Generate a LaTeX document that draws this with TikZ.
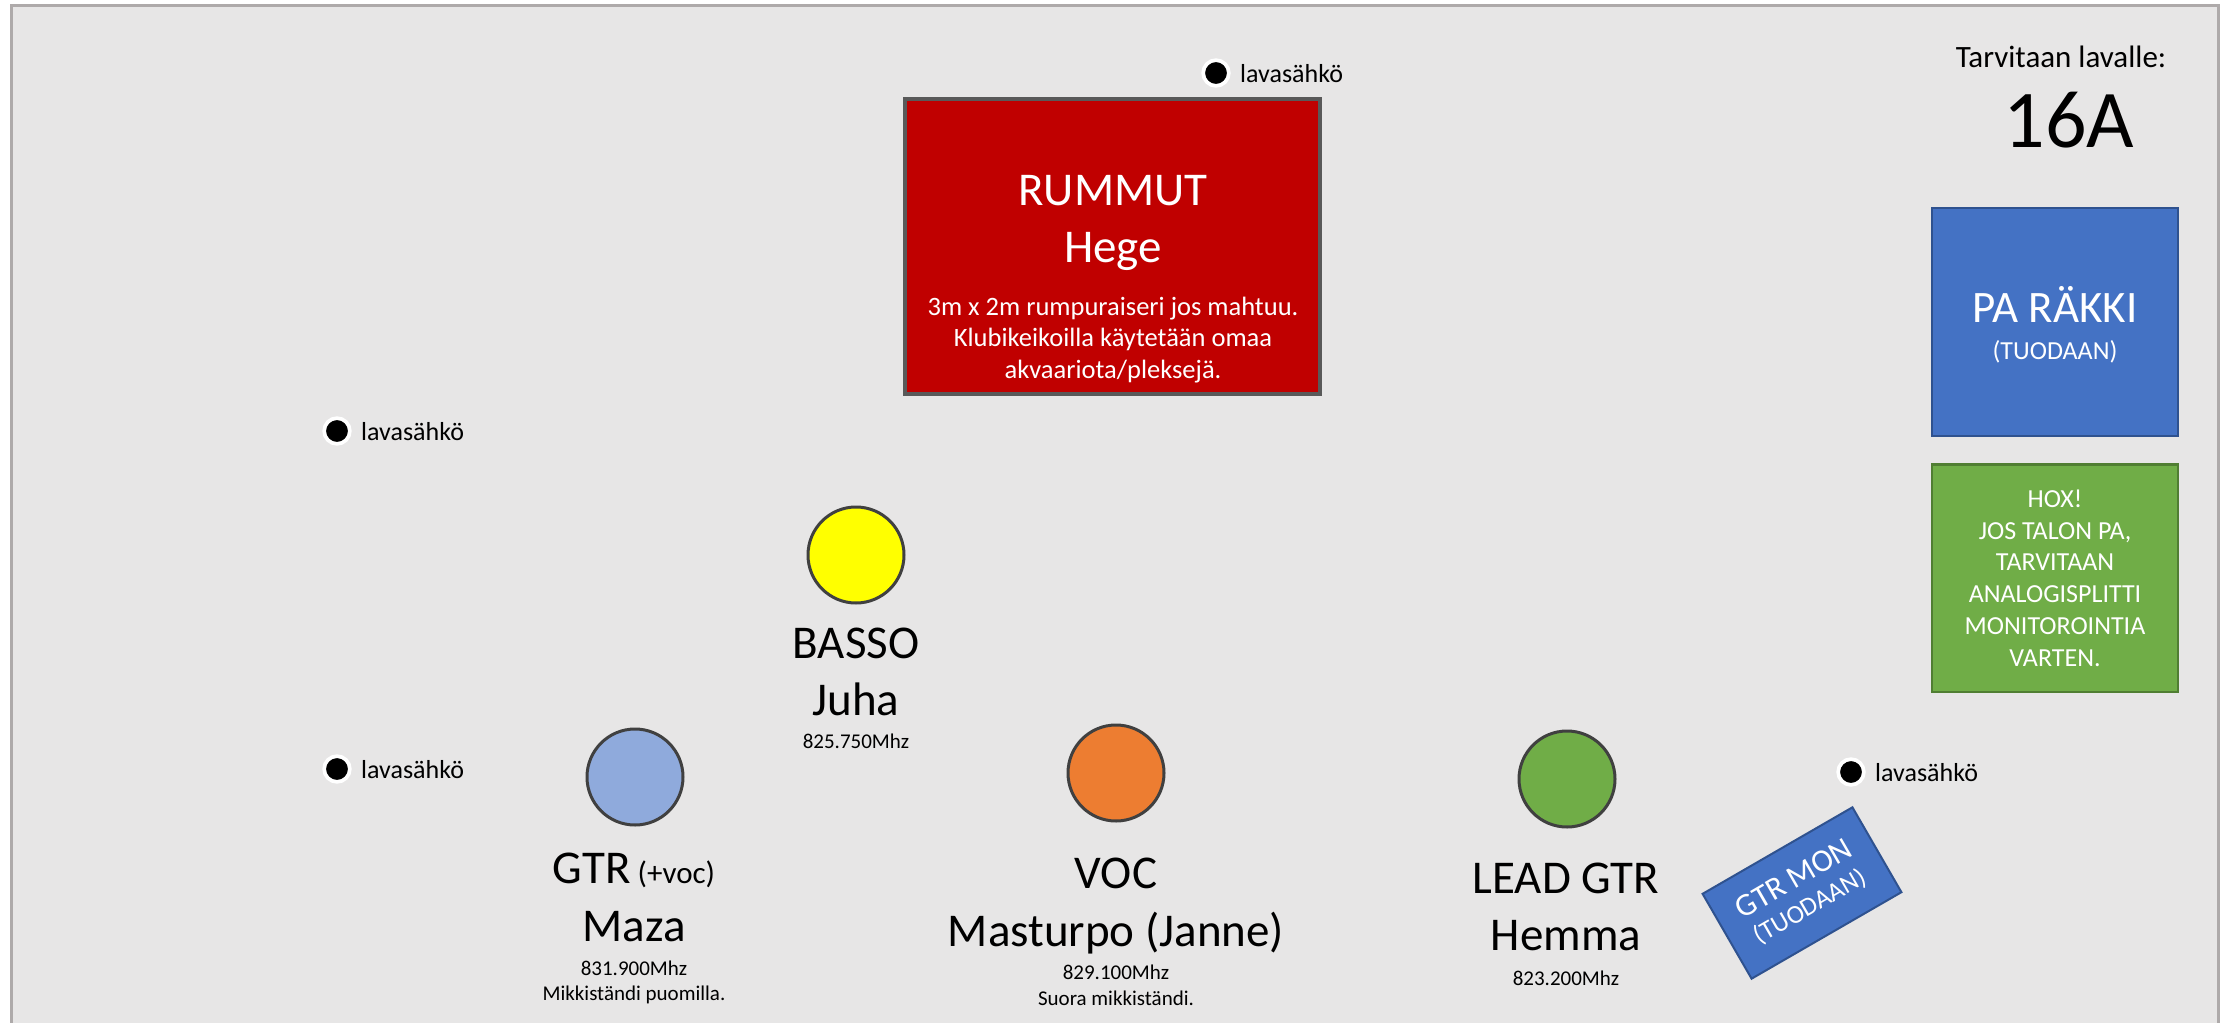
\documentclass[tikz,border=0pt]{standalone}
\usepackage{fontspec}
\setmainfont{Carlito}
\usetikzlibrary{positioning}

\definecolor{stagebg}{HTML}{E7E6E6}
\definecolor{stageline}{HTML}{AEAAAA}
\definecolor{drumred}{HTML}{C00000}
\definecolor{drumline}{HTML}{595959}
\definecolor{ringline}{HTML}{404040}
\definecolor{bassyellow}{HTML}{FFFF00}
\definecolor{gtrblue}{HTML}{8FAADC}
\definecolor{vocorange}{HTML}{ED7D31}
\definecolor{leadgreen}{HTML}{70AD47}
\definecolor{rackblue}{HTML}{4472C4}
\definecolor{rackline}{HTML}{2F528F}
\definecolor{noteline}{HTML}{507E32}

\newcommand{\pxfont}[2]{\fontsize{#1}{#2}\selectfont}

\tikzset{
    player/.style={circle, draw=ringline, line width=3pt, minimum size=96pt, inner sep=0pt},
    socket/.style={circle, fill=black, draw=white, line width=3.7pt, minimum size=25.7pt, inner sep=0pt},
    sockettext/.style={anchor=base west, inner sep=0pt, font=\pxfont{26}{31}},
    bigname/.style={anchor=base, inner sep=0pt, font=\pxfont{47}{57}},
    freq/.style={anchor=base, inner sep=0pt, font=\pxfont{21}{26}},
    notetext/.style={anchor=base, inner sep=0pt, align=center, text=white},
}

\begin{document}
\begin{tikzpicture}[x=1pt,y=-1pt]
                \useasboundingbox (0,0) rectangle (2231,1023);
                \clip (0,0) rectangle (2231,1023);
                \fill[white] (0,0) rectangle (2231,1023);
                \draw[stageline, fill=stagebg, line width=3pt] (11.5,5) rectangle (2218.5,1080);
                % rummut
                \node[rectangle, fill=drumred, draw=drumline, line width=4pt, minimum width=415pt, minimum height=295pt] (rummut) at (1112.5,246.5) {};
                \node[bigname, text=white] (rummut-a) at (1113,205.7) {RUMMUT};
                \node[bigname, text=white] (rummut-b) at (1113,262) {Hege};
                \node[notetext, font=\pxfont{26.5}{31.5}] (rummut-c) at (1113,378) {3m x 2m rumpuraiseri jos mahtuu.\\Klubikeikoilla käytetään omaa\\akvaariota/pleksejä.};
                % lavasahkot
                \node[socket] (s1) at (1216,73) {};
                \node[socket] (s2) at (337,431) {};
                \node[socket] (s3) at (337,769) {};
                \node[socket] (s4) at (1851,772) {};
                \node[sockettext] (s1-t) at (1240,82.5) {lavasähkö};
                \node[sockettext] (s2-t) at (361,440.5) {lavasähkö};
                \node[sockettext] (s3-t) at (361,778.5) {lavasähkö};
                \node[sockettext] (s4-t) at (1875,781.5) {lavasähkö};
                % virta
                \node[anchor=base, inner sep=0pt, font=\pxfont{31}{37}] (tarve) at (2061,67) {Tarvitaan lavalle:};
                \node[anchor=base, inner sep=0pt, font=\pxfont{82}{98}] (ampeeri) at (2069,147) {16A};
                % pa
                \node[rectangle, fill=rackblue, draw=rackline, line width=2.5pt, minimum width=246pt, minimum height=228pt] (pa) at (2055,322) {};
                \node[bigname, text=white, font=\pxfont{45}{54}] (pa-a) at (2055,322.7) {PA RÄKKI};
                \node[anchor=base, inner sep=0pt, text=white, font=\pxfont{26}{31}] (pa-b) at (2055,359.6) {(TUODAAN)};
                \node[rectangle, fill=leadgreen, draw=noteline, line width=2.5pt, minimum width=246pt, minimum height=227.5pt] (hox) at (2055,578.3) {};
                \node[notetext, font=\pxfont{26}{31.9}] (hox-t) at (2055,666.6) {HOX!\\JOS TALON PA,\\TARVITAAN\\ANALOGISPLITTI\\MONITOROINTIA\\VARTEN.};
                % soittajat
                \node[player, fill=bassyellow] (basso) at (856,555) {};
                \node[bigname] (basso-a) at (856,658.3) {BASSO};
                \node[bigname] (basso-b) at (856,715) {Juha};
                \node[freq] (basso-c) at (856,748.3) {825.750Mhz};
                \node[player, fill=gtrblue] (gtr) at (635,777) {};
                \node[bigname] (gtr-a) at (634,883.3) {GTR{\pxfont{31}{36} (+voc)}};
                \node[bigname] (gtr-b) at (634,941.7) {Maza};
                \node[freq] (gtr-c) at (634,975) {831.900Mhz};
                \node[freq] (gtr-d) at (634,1000) {Mikkiständi puomilla.};
                \node[player, fill=vocorange] (voc) at (1116,773) {};
                \node[bigname] (voc-a) at (1116,888.3) {VOC};
                \node[bigname] (voc-b) at (1116,946.7) {Masturpo (Janne)};
                \node[freq] (voc-c) at (1116,979.3) {829.100Mhz};
                \node[freq] (voc-d) at (1116,1005) {Suora mikkiständi.};
                \node[player, fill=leadgreen] (lead) at (1567,779) {};
                \node[bigname] (lead-a) at (1566,893.3) {LEAD GTR};
                \node[bigname] (lead-b) at (1566,950) {Hemma};
                \node[freq] (lead-c) at (1566,985) {823.200Mhz};
                % monitori
                \node[rectangle, rotate=30, fill=rackblue, draw=rackline, line width=2pt, minimum width=173pt, minimum height=98pt, text=white, align=center, inner sep=0pt] (mon) at (1802,893) {\pxfont{32}{37}GTR MON\\[10pt]\pxfont{26}{37}(TUODAAN)};
            \end{tikzpicture}
\end{document}
